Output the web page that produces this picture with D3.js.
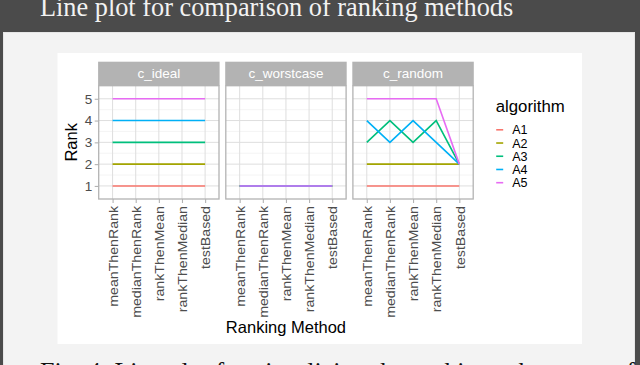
<!DOCTYPE html>
<html>
<head>
<meta charset="utf-8">
<script src="https://cdn.jsdelivr.net/npm/d3@7"></script>
<style>
  html, body { margin: 0; padding: 0; background: #4b4b4b; overflow: hidden; }
  svg { display: block; }
</style>
</head>
<body>
<script>
const methods = ["meanThenRank", "medianThenRank", "rankThenMean", "rankThenMedian", "testBased"];
const cases = ["c_ideal", "c_worstcase", "c_random"];
const algorithms = ["A1", "A2", "A3", "A4", "A5"];
const colors = ["#F8766D", "#A3A500", "#00BF7D", "#00B0F6", "#E76BF3"];
const rankTicks = [1, 2, 3, 4, 5];

// ranks per algorithm (rows A1..A5), one value per ranking method
const rankIdeal = [
  [1, 1, 1, 1, 1],
  [2, 2, 2, 2, 2],
  [3, 3, 3, 3, 3],
  [4, 4, 4, 4, 4],
  [5, 5, 5, 5, 5],
];
const rankWorstcase = [
  [1, 1, 1, 1, 1],
  [1, 1, 1, 1, 1],
  [1, 1, 1, 1, 1],
  [1, 1, 1, 1, 1],
  [1, 1, 1, 1, 1],
];
const rankRandom = [
  [1, 1, 1, 1, 1],
  [2, 2, 2, 2, 2],
  [3, 4, 3, 4, 2],
  [4, 3, 4, 3, 2],
  [5, 5, 5, 5, 2],
];
const caseRanks = [rankIdeal, rankWorstcase, rankRandom];

const width = 640;
const height = 365;

const svg = d3
  .select("body")
  .append("svg")
  .attr("width", width)
  .attr("height", height);

// page background, paper panel, white figure area
svg.append("rect").attr("width", width).attr("height", height).attr("fill", "#4b4b4b");
svg
  .append("rect")
  .attr("x", 3.5)
  .attr("y", 32.5)
  .attr("width", 631)
  .attr("height", 340)
  .attr("fill", "#f3f3f3")
  .attr("stroke", "#e6e6e6");
svg
  .append("rect")
  .attr("x", 57.5)
  .attr("y", 53)
  .attr("width", 524.5)
  .attr("height", 291)
  .attr("fill", "#ffffff");

svg
  .append("text")
  .text("Line plot for comparison of ranking methods")
  .attr("x", 40)
  .attr("y", 16)
  .attr("fill", "#f2f2f2")
  .attr("font-family", "Liberation Serif, serif")
  .attr("font-size", 26.3);

svg
  .append("text")
  .text("Fig. 4: Line plot for visualizing the ranking robustness of")
  .attr("x", 40)
  .attr("y", 380)
  .attr("fill", "#111")
  .attr("font-family", "Liberation Serif, serif")
  .attr("font-size", 26);

// facets
const panelLeft = 98.7;
const panelW = 120.3;
const gap = 6.8;
const stripTop = 61.7;
const stripH = 24;
const panelTop = stripTop + stripH;
const panelBottom = 199;

const x = d3.scalePoint().domain(methods).range([0, panelW]).padding(0.6);
const y = d3.scaleLinear().domain([0.4, 5.6]).range([panelBottom, panelTop]);
const minorTicks = [1.5, 2.5, 3.5, 4.5];

const line = d3
  .line()
  .x((d, i) => x(methods[i]))
  .y((d) => y(d));

cases.forEach((c, ci) => {
  const g = svg
    .append("g")
    .attr("transform", `translate(${panelLeft + ci * (panelW + gap)},0)`);

  g.append("rect")
    .attr("y", panelTop)
    .attr("width", panelW)
    .attr("height", panelBottom - panelTop)
    .attr("fill", "#fff");

  g.selectAll(".minor")
    .data(minorTicks)
    .enter()
    .append("line")
    .attr("x1", 0)
    .attr("x2", panelW)
    .attr("y1", (d) => y(d))
    .attr("y2", (d) => y(d))
    .attr("stroke", "#efefef")
    .attr("stroke-width", 0.6);
  g.selectAll(".hgrid")
    .data(rankTicks)
    .enter()
    .append("line")
    .attr("x1", 0)
    .attr("x2", panelW)
    .attr("y1", (d) => y(d))
    .attr("y2", (d) => y(d))
    .attr("stroke", "#dedede")
    .attr("stroke-width", 1);
  g.selectAll(".vgrid")
    .data(methods)
    .enter()
    .append("line")
    .attr("x1", (d) => x(d))
    .attr("x2", (d) => x(d))
    .attr("y1", panelTop)
    .attr("y2", panelBottom)
    .attr("stroke", "#dedede")
    .attr("stroke-width", 1);

  g.selectAll("path.series")
    .data(caseRanks[ci])
    .enter()
    .append("path")
    .attr("class", "series")
    .attr("d", line)
    .attr("fill", "none")
    .attr("stroke", (d, i) => colors[i])
    .attr("stroke-width", 1.6);

  g.append("rect")
    .attr("y", panelTop)
    .attr("width", panelW)
    .attr("height", panelBottom - panelTop)
    .attr("fill", "none")
    .attr("stroke", "#b3b3b3")
    .attr("stroke-width", 1.3);

  // strip
  g.append("rect")
    .attr("x", -0.6)
    .attr("y", stripTop)
    .attr("width", panelW + 1.2)
    .attr("height", stripH)
    .attr("fill", "#b3b3b3");
  g.append("text")
    .text(c)
    .attr("x", panelW / 2)
    .attr("y", stripTop + stripH / 2)
    .attr("dy", "0.35em")
    .attr("text-anchor", "middle")
    .attr("fill", "#fff")
    .attr("font-family", "Liberation Sans, Arial, sans-serif")
    .attr("font-size", 13.5);

  // x axis
  const xg = g.append("g").attr("transform", `translate(0,${panelBottom})`);
  xg.call(d3.axisBottom(x).tickSize(4).tickPadding(3));
  xg.select(".domain").remove();
  xg.selectAll(".tick line").attr("stroke", "#b3b3b3").attr("stroke-width", 1.1);
  xg.selectAll(".tick text")
    .attr("transform", "rotate(-90) scale(1.05,1)")
    .attr("text-anchor", "end")
    .attr("x", -6.7)
    .attr("y", 0)
    .attr("dy", "0.35em")
    .attr("fill", "#4d4d4d")
    .attr("font-family", "Liberation Sans, Arial, sans-serif")
    .attr("font-size", 13.5);
});

// y axis on first panel
const yg = svg.append("g").attr("transform", `translate(${panelLeft},0)`);
yg.call(d3.axisLeft(y).tickValues(rankTicks).tickFormat(d3.format("d")).tickSize(4).tickPadding(2.5));
yg.select(".domain").remove();
yg.selectAll(".tick line").attr("stroke", "#b3b3b3").attr("stroke-width", 1.1);
yg.selectAll(".tick text")
  .attr("fill", "#4d4d4d")
  .attr("font-family", "Liberation Sans, Arial, sans-serif")
  .attr("font-size", 13.5);

// axis titles
svg
  .append("text")
  .text("Rank")
  .attr("transform", `translate(71,${(panelTop + panelBottom) / 2}) rotate(-90)`)
  .attr("dy", "0.35em")
  .attr("text-anchor", "middle")
  .attr("fill", "#000")
  .attr("font-family", "Liberation Sans, Arial, sans-serif")
  .attr("font-size", 16.5);
svg
  .append("text")
  .text("Ranking Method")
  .attr("x", panelLeft + (3 * panelW + 2 * gap) / 2)
  .attr("y", 333)
  .attr("text-anchor", "middle")
  .attr("fill", "#000")
  .attr("font-family", "Liberation Sans, Arial, sans-serif")
  .attr("font-size", 16.5);

// legend
const legendY = d3.scalePoint().domain(algorithms).range([129.8, 182.7]);
const legend = svg.append("g").attr("transform", "translate(495.7,0)");
legend
  .append("text")
  .text("algorithm")
  .attr("y", 111.5)
  .attr("fill", "#000")
  .attr("font-family", "Liberation Sans, Arial, sans-serif")
  .attr("font-size", 16.8);
legend
  .selectAll("line")
  .data(algorithms)
  .enter()
  .append("line")
  .attr("x1", 0.5)
  .attr("x2", 7.5)
  .attr("y1", (d) => legendY(d))
  .attr("y2", (d) => legendY(d))
  .attr("stroke", (d, i) => colors[i])
  .attr("stroke-width", 1.6);
legend
  .selectAll(".lab")
  .data(algorithms)
  .enter()
  .append("text")
  .text((d) => d)
  .attr("x", 16.5)
  .attr("y", (d) => legendY(d))
  .attr("dy", "0.36em")
  .attr("fill", "#000")
  .attr("font-family", "Liberation Sans, Arial, sans-serif")
  .attr("font-size", 12.5);
</script>
</body>
</html>
